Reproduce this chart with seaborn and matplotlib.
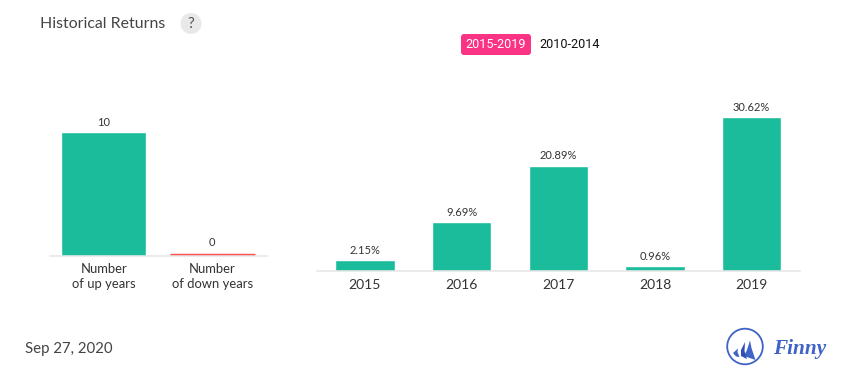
import matplotlib
matplotlib.use("Agg")
import matplotlib.pyplot as plt
from matplotlib.patches import Circle, FancyBboxPatch, Polygon
import seaborn as sns

# data
count_labels = ["Number\nof up years", "Number\nof down years"]
count_values = [10, 0]
years = ["2015", "2016", "2017", "2018", "2019"]
returns = [2.15, 9.69, 20.89, 0.96, 30.62]
return_labels = ["2.15%", "9.69%", "20.89%", "0.96%", "30.62%"]

GREEN = "#1abc9c"
RED = "#ff5252"
PINK = "#fb3384"
BLUE = "#3f63c6"
W, H = 855, 382

sns.set_theme(style="white")
plt.rcParams["font.family"] = ["Lato", "DejaVu Sans"]

fig = plt.figure(figsize=(W / 100, H / 100), dpi=100, facecolor="white")


def axes_px(left, right, top, bottom):
    return fig.add_axes([left / W, 1 - bottom / H, (right - left) / W, (bottom - top) / H])


def style_axis(ax):
    sns.despine(ax=ax, left=True)
    ax.spines["bottom"].set_color("#e6e6e6")
    ax.spines["bottom"].set_linewidth(1.1)
    ax.set_xlabel("")
    ax.set_ylabel("")
    ax.set_yticks([])
    ax.patch.set_alpha(0)
    ax.tick_params(axis="x", length=0, pad=5, labelsize=10, labelcolor="#333333")


# left panel
ax1 = axes_px(49.5, 266.5, 131.7, 255.5)
sns.barplot(x=count_labels, y=count_values, color=GREEN, width=0.78, saturation=1, ax=ax1)
ax1.set_ylim(0, 10)
ax1.set_xlim(-0.5, 1.5)
style_axis(ax1)
ax1.tick_params(axis="x", labelsize=9.4, pad=5.6)
for tick in ax1.get_xticklabels():
    tick.set_linespacing(1.3)
for p, v in zip(ax1.patches, count_values):
    if v == 0:
        # zero bar still shows as a thin red line
        ax1.plot([p.get_x(), p.get_x() + p.get_width()], [0, 0], color=RED, lw=3.9,
                 solid_capstyle="butt", zorder=2)
    ax1.annotate(str(v), (p.get_x() + p.get_width() / 2, v), xytext=(0, 2.8 if v else 5.4),
                 textcoords="offset points", ha="center", va="bottom", fontsize=8, color="#333333",
                 annotation_clip=False)

# right panel
ax2 = axes_px(316.5, 800, 117, 271)
sns.barplot(x=years, y=returns, color=GREEN, width=0.615, saturation=1, ax=ax2)
ax2.set_ylim(0, 30.62)
ax2.set_xlim(-0.5, 4.5)
style_axis(ax2)
ax2.tick_params(axis="x", pad=5.5)
for p, v, s in zip(ax2.patches, returns, return_labels):
    ax2.annotate(s, (p.get_x() + p.get_width() / 2, v), xytext=(0, 3.2),
                 textcoords="offset points", ha="center", va="bottom", fontsize=8, color="#333333",
                 annotation_clip=False)

# page furniture drawn in pixel coordinates
ov = fig.add_axes([0, 0, 1, 1])
ov.set_xlim(0, W)
ov.set_ylim(H, 0)
ov.axis("off")
ov.patch.set_alpha(0)

ov.text(40, 23.5, "Historical Returns", fontsize=11.4, color="#444444", va="center", ha="left")
ov.add_patch(Circle((191, 23.5), 10.5, color="#e9e9e9", lw=0))
ov.text(191, 23.5, "?", fontsize=11, color="#555555", va="center", ha="center")

ov.add_patch(FancyBboxPatch((463, 36), 66, 17, boxstyle="round,pad=2,rounding_size=3",
                            facecolor=PINK, edgecolor="none"))
ov.text(496, 44.5, "2015-2019", family="Roboto", fontsize=9.1, color="white", va="center", ha="center")
ov.text(569.5, 44.5, "2010-2014", family="Roboto", fontsize=9.1, color="#111111", va="center", ha="center")

ov.text(25, 349, "Sep 27, 2020", fontsize=10.8, color="#444444", va="center", ha="left")

# Finny logo
ov.add_patch(Circle((745, 346.5), 17.8, facecolor="none", edgecolor=BLUE, lw=1.3))
ov.add_patch(Polygon([(750, 340.5), (751.5, 348), (755.5, 360), (744, 356), (747, 350)], color=BLUE, lw=0))
ov.add_patch(Polygon([(745, 342), (741, 350), (741, 356), (747, 359), (744.5, 351)], color="#2f4fb5", lw=0))
ov.add_patch(Polygon([(738, 348.5), (733, 353), (736, 356.5), (739.5, 357), (737.5, 352)], color=BLUE, lw=0))
ov.text(773, 349, "Finny", family="Liberation Serif", style="italic", weight="bold", fontsize=15.3,
        color=BLUE, va="center", ha="left")

fig.savefig("out.png", dpi=100, facecolor="white")
